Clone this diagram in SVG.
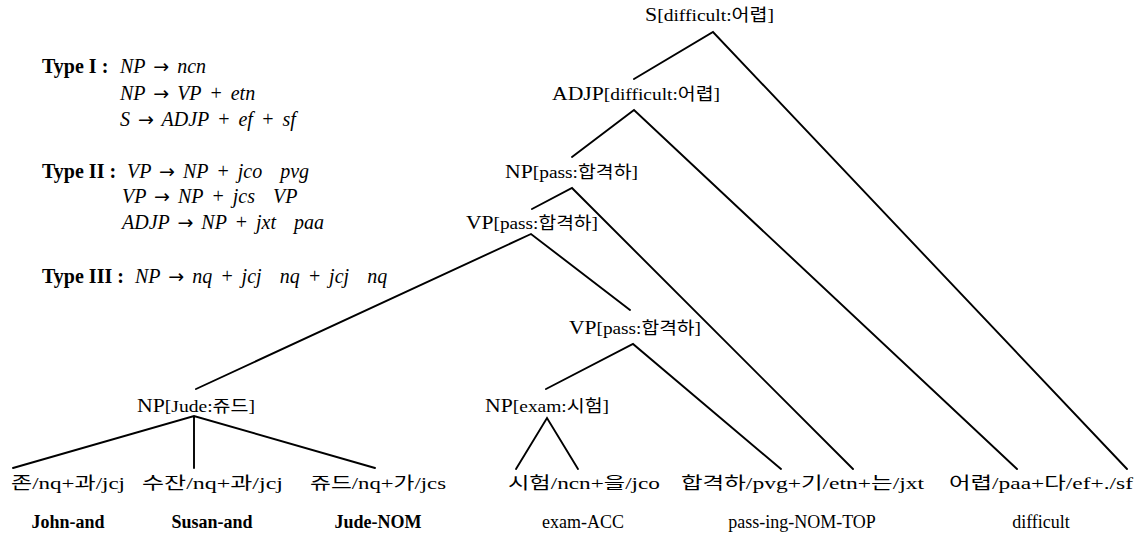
<svg xmlns="http://www.w3.org/2000/svg" width="1137" height="538" viewBox="0 0 1137 538">
<style>
  .type { font-family: "Liberation Serif", "DejaVu Serif", serif; font-size: 20px; font-weight: bold; fill: #000; }
  .math { font-family: "Liberation Serif", "DejaVu Serif", serif; font-size: 20px; font-style: italic; fill: #000; word-spacing: 3px; }
  .ar { font-family: "DejaVu Sans", sans-serif; font-style: normal; font-size: 19px; }
  .lbl { font-family: "Liberation Serif", "Noto Sans CJK KR", serif; font-size: 17px; fill: #000; }
  .cat { font-size: 19px; }
  .leaf { font-family: "Liberation Serif", "Noto Sans CJK KR", serif; font-size: 17px; fill: #000; }
  .gloss { font-family: "Liberation Serif", "DejaVu Serif", serif; font-size: 18px; fill: #000; text-anchor: middle; }
  .b { font-weight: bold; }
  .edge { stroke: #000; stroke-width: 1.9; fill: none; stroke-linecap: round; stroke-linejoin: miter; }
</style>
<rect width="1137" height="538" fill="#fff"/>

<g id="rules">
  <text class="type" x="42" y="73">Type I :</text>
  <text class="math" x="120" y="73">NP <tspan class="ar">→</tspan> ncn</text>
  <text class="math" x="120" y="100">NP <tspan class="ar">→</tspan> VP + etn</text>
  <text class="math" x="120" y="126">S <tspan class="ar">→</tspan> ADJP + ef + sf</text>
  <text class="type" x="42" y="178">Type II :</text>
  <text class="math" x="127" y="178">VP <tspan class="ar">→</tspan> NP + jco <tspan dx="10">pvg</tspan></text>
  <text class="math" x="122" y="203">VP <tspan class="ar">→</tspan> NP + jcs <tspan dx="10">VP</tspan></text>
  <text class="math" x="122" y="229">ADJP <tspan class="ar">→</tspan> NP + jxt <tspan dx="10">paa</tspan></text>
  <text class="type" x="42" y="283">Type III :</text>
  <text class="math" x="135" y="283">NP <tspan class="ar">→</tspan> nq + jcj <tspan dx="10">nq</tspan> + jcj <tspan dx="10">nq</tspan></text>
</g>

<g id="connectors">
  <path class="edge" d="M634,79 L713,32 L1127,469"/>
  <path class="edge" d="M572,157 L634,110 L1017,469"/>
  <path class="edge" d="M532,209 L572,188 L853,469"/>
  <path class="edge" d="M196,389 L531,234 L630,310"/>
  <path class="edge" d="M546,389 L633,344 L781,469"/>
  <path class="edge" d="M13,468 L194,416 L375,468 M194,416 L194,468"/>
  <path class="edge" d="M516,469 L547,418 L578,469"/>
</g>

<g id="node-S"><text class="lbl" x="645" y="21" textLength="129" lengthAdjust="spacingAndGlyphs"><tspan class="cat">S</tspan>[difficult:어렵]</text></g>
<g id="node-ADJP"><text class="lbl" x="552" y="100" textLength="168" lengthAdjust="spacingAndGlyphs"><tspan class="cat">ADJP</tspan>[difficult:어렵]</text></g>
<g id="node-NP-pass"><text class="lbl" x="505" y="178" textLength="133" lengthAdjust="spacingAndGlyphs"><tspan class="cat">NP</tspan>[pass:합격하]</text></g>
<g id="node-VP-upper"><text class="lbl" x="466" y="229" textLength="132" lengthAdjust="spacingAndGlyphs"><tspan class="cat">VP</tspan>[pass:합격하]</text></g>
<g id="node-VP-lower"><text class="lbl" x="569" y="334" textLength="132" lengthAdjust="spacingAndGlyphs"><tspan class="cat">VP</tspan>[pass:합격하]</text></g>
<g id="node-NP-Jude"><text class="lbl" x="137" y="412" textLength="118" lengthAdjust="spacingAndGlyphs"><tspan class="cat">NP</tspan>[Jude:쥬드]</text></g>
<g id="node-NP-exam"><text class="lbl" x="485" y="412" textLength="124" lengthAdjust="spacingAndGlyphs"><tspan class="cat">NP</tspan>[exam:시험]</text></g>

<g id="leaf-1"><text class="leaf" x="11" y="489" textLength="114" lengthAdjust="spacingAndGlyphs">존/nq+과/jcj</text><text class="gloss b" x="68" y="528">John-and</text></g>
<g id="leaf-2"><text class="leaf" x="142" y="489" textLength="141" lengthAdjust="spacingAndGlyphs">수잔/nq+과/jcj</text><text class="gloss b" x="212" y="528">Susan-and</text></g>
<g id="leaf-3"><text class="leaf" x="310" y="489" textLength="136" lengthAdjust="spacingAndGlyphs">쥬드/nq+가/jcs</text><text class="gloss b" x="378" y="528">Jude-NOM</text></g>
<g id="leaf-4"><text class="leaf" x="508" y="489" textLength="152" lengthAdjust="spacingAndGlyphs">시험/ncn+을/jco</text><text class="gloss" x="583" y="528">exam-ACC</text></g>
<g id="leaf-5"><text class="leaf" x="681" y="489" textLength="243" lengthAdjust="spacingAndGlyphs">합격하/pvg+기/etn+는/jxt</text><text class="gloss" x="802" y="528">pass-ing-NOM-TOP</text></g>
<g id="leaf-6"><text class="leaf" x="949" y="489" textLength="184" lengthAdjust="spacingAndGlyphs">어렵/paa+다/ef+./sf</text><text class="gloss" x="1041" y="528">difficult</text></g>
</svg>
